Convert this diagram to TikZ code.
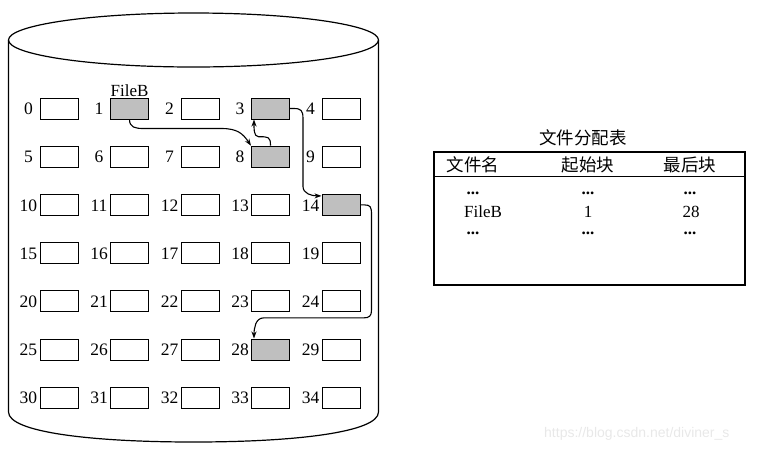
\documentclass[tikz,border=0pt]{standalone}
\usepackage{fontspec}
\setmainfont{Liberation Serif}
\newfontfamily\cjk{Noto Sans CJK SC}
\newfontfamily\wmfont{Liberation Sans}
\usetikzlibrary{arrows.meta,calc,positioning}

\tikzset{
	blk/.style={draw,line width=1pt,minimum width=38pt,minimum height=21pt,inner sep=0pt},
	used/.style={blk,fill=gray!50},
	num/.style={inner sep=0pt,font=\fontsize{17.5}{20}\selectfont},
	link/.style={line width=1.1pt,-{Stealth[length=7pt,width=5pt]}},
	cell/.style={inner sep=0pt,anchor=base,font=\fontsize{17}{20}\selectfont},
	head/.style={inner sep=0pt,font=\cjk\fontsize{17.5}{20}\selectfont}
}

\begin{document}
\begin{tikzpicture}[x=1pt,y=-1pt]
	\useasboundingbox (0,0) rectangle (763,451);
	\draw[line width=1.2pt] (193.5,40) ellipse [x radius=185, y radius=27];
	\draw[line width=1.2pt] (8.5,40) -- (8.5,412) .. controls (8.5,432) and (90,442) .. (193.5,442)
		.. controls (297,442) and (378.5,432) .. (378.5,412) -- (378.5,40);
	\foreach \r in {0,...,6}
		\foreach \c in {0,...,4} {
			\pgfmathtruncatemacro\n{5*\r+\c}
			\node[blk] (b\n) at ({59+70.5*\c},{108.5+48.2*\r}) {};
			\node[num] (n\n) at ($(b\n.west)+(-11,0.5)$) {\n};
		}
	\foreach \k in {1,3,8,14,28}
		\node[used] at (b\k) {};
	\node[cell,anchor=south,above=1pt of b1] (fb) {FileB};
	\draw[link] (b1.south) .. controls +(0,8) and +(-8,0) .. ++(14,9) -- ++(78,0)
		.. controls +(16,0) and +(-8,-12) .. (b8.north west);
	\draw[link] (b8.north) .. controls +(0,-9) and +(10,0) .. ++(-12,-9)
		.. controls +(-5,0) and +(0,8) .. ($(b3.south west)+(3,0)$);
	\draw[link] (b3.east) -- ++(4,0) .. controls +(7,0) and +(0,-8) .. ++(9,10) -- ++(0,68)
		.. controls +(0,7) and +(-10,0) .. ($(b14.north west)+(0,2)$);
	\draw[link] (b14.east) -- ++(4,0) .. controls +(6,0) and +(0,-8) .. ++(7,10) -- ++(0,95)
		.. controls +(0,6) and +(6,0) .. ++(-8,8) -- ++(-100,0)
		.. controls +(-8,0) and +(0,-10) .. ($(b28.north west)+(3,0)$);

	\node[head] (title) at (583,138) {文件分配表};
	\node[draw,line width=1.2pt,minimum width=311pt,minimum height=133pt,inner sep=0pt] (tab) at (589.5,218.5) {};
	\draw[line width=1.2pt] ($(tab.north west)+(0,25)$) -- ($(tab.north east)+(0,25)$);
	\node[head] (h1) at (473,165) {文件名};
	\node[head] (h2) at (588,165) {起始块};
	\node[head] (h3) at (690,165) {最后块};
	\node[cell] (d1) at (473,194) {\textbf{...}};
	\node[cell] (d2) at (588,194) {\textbf{...}};
	\node[cell] (d3) at (690,194) {\textbf{...}};
	\node[cell] (f1) at (483,217.5) {FileB};
	\node[cell] (f2) at (588,217.5) {1};
	\node[cell] (f3) at (691,217.5) {28};
	\node[cell] (e1) at (473,234) {\textbf{...}};
	\node[cell] (e2) at (588,234) {\textbf{...}};
	\node[cell] (e3) at (690,234) {\textbf{...}};

	\node[inner sep=0pt,anchor=base west,text=gray!18,font=\wmfont\fontsize{14}{16}\selectfont] (wm) at (544,437) {https://blog.csdn.net/diviner\_s};
\end{tikzpicture}
\end{document}
